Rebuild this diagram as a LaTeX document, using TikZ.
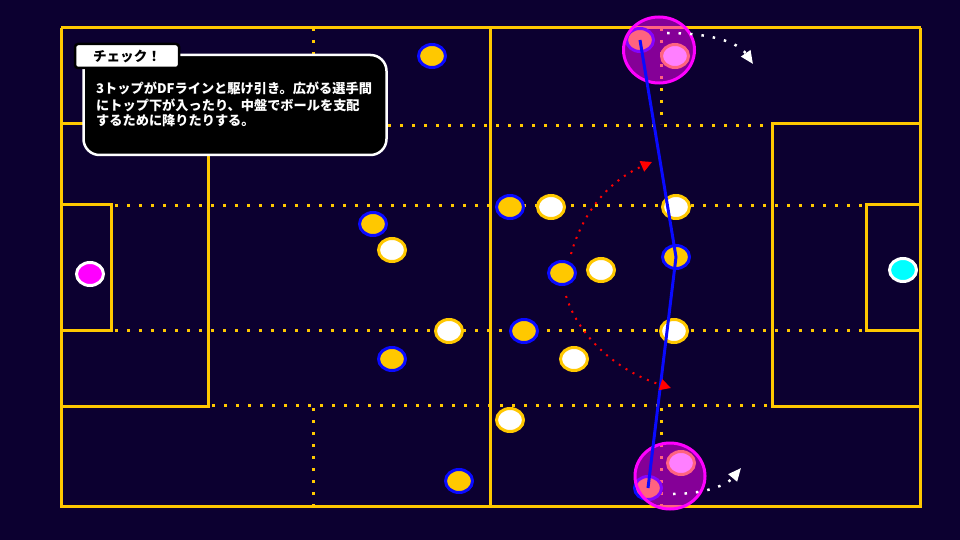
\documentclass[tikz,border=0pt]{standalone}
\usepackage{fontspec}
\newfontfamily\cjk{Noto Sans CJK JP}
\usetikzlibrary{shapes.geometric,arrows.meta}
\definecolor{bg}{RGB}{12,0,48}
\definecolor{fy}{RGB}{255,200,0}
\definecolor{pblue}{RGB}{10,10,255}
\definecolor{mag}{RGB}{255,0,255}
\definecolor{cy}{RGB}{0,255,255}
\definecolor{ared}{RGB}{255,0,0}
\tikzset{
  fline/.style={draw=fy,line width=3pt},
  fdots/.style={draw=fy,line width=3pt,dash pattern=on 3pt off 9pt},
  player/.style={ellipse,minimum width=27pt,minimum height=23pt,inner sep=0pt,line width=3pt},
  att/.style={player,fill=fy,draw=pblue},
  dfd/.style={player,fill=white,draw=fy},
  gk/.style={player,draw=white},
  zone/.style={ellipse,inner sep=0pt,minimum width=71pt,minimum height=66pt,fill=mag,fill opacity=0.5,draw=mag,draw opacity=1,line width=3pt},
  redarrow/.style={draw=ared,line width=2pt,dash pattern=on 2pt off 6pt,-{Triangle[length=11pt,width=11pt]}},
  whitearrow/.style={draw=white,line width=2.5pt,dash pattern=on 2.5pt off 9pt,-{Triangle[length=13pt,width=11pt]}},
  runline/.style={draw=pblue,line width=3pt},
  bodytext/.style={anchor=west,inner sep=0pt,text=white,font=\cjk\bfseries\fontsize{13.2}{16}\selectfont},
}
\begin{document}
\begin{tikzpicture}[x=1pt,y=-1pt]
\useasboundingbox (0,0) rectangle (960,540);
\fill[bg] (0,0) rectangle (960,540);
% field
\draw[fline] (61,28) -- (921,28);
\draw[fline] (61,28) -- (61,508);
\draw[fline] (920,28) -- (920,505);
\draw[fline] (60,506) -- (922,506);
\draw[fline] (490,28) -- (490,506);
\draw[fline] (61,124) -- (208,124) -- (208,406) -- (61,406);
\draw[fline] (61,204) -- (111,204) -- (111,330) -- (61,330);
\draw[fline] (920,124) -- (772,124) -- (772,406) -- (920,406);
\draw[fline] (920,204) -- (866,204) -- (866,330) -- (920,330);
% dotted guides
\draw[fdots] (208,126) -- (772,126);
\draw[fdots] (115,205) -- (866,205);
\draw[fdots] (115,330) -- (866,330);
\draw[fdots] (212,405) -- (772,405);
\draw[fdots] (313,28) -- (313,124);
\draw[fdots] (313,408) -- (313,506);
\draw[fdots] (661,28) -- (661,124);
\draw[fdots] (661,408) -- (661,506);
% goalkeepers
\node[gk,fill=mag] (gkl) at (90,274) {};
\node[gk,fill=cy] (gkr) at (903,270) {};
% attackers
\node[att] (a1) at (432,56) {};
\node[att] (a2) at (373,224) {};
\node[att] (a3) at (510,207) {};
\node[att] (a4) at (562,273) {};
\node[att] (a5) at (676,257) {};
\node[att] (a6) at (524,331) {};
\node[att] (a7) at (392,359) {};
\node[att] (a8) at (459,481) {};
\node[att] (a9) at (640,40) {};
\node[att] (a10) at (648,488) {};
% defenders
\node[dfd] (d1) at (392,250) {};
\node[dfd] (d2) at (551,207) {};
\node[dfd] (d3) at (676,207) {};
\node[dfd] (d4) at (601,270) {};
\node[dfd] (d5) at (449,331) {};
\node[dfd] (d6) at (674,331) {};
\node[dfd] (d7) at (574,359) {};
\node[dfd] (d8) at (510,420) {};
\node[dfd] (d9) at (675,56) {};
\node[dfd] (d10) at (681,463) {};
% highlight zones
\node[zone] (z1) at (659,50) {};
\node[zone,minimum width=70pt] (z2) at (670,476) {};
% callout
\node[fill=black,draw=white,line width=2.5pt,rounded corners=16pt,minimum width=303pt,minimum height=100pt,inner sep=0pt] (box) at (235,105) {};
\node[fill=white,draw=black,line width=2.5pt,rounded corners=3pt,minimum width=104pt,minimum height=24pt,inner sep=0pt,font=\cjk\bfseries\fontsize{13.6}{16}\selectfont] (tab) at (127,56) {チェック！};
\node[bodytext] (t1) at (96,88) {3トップがDFラインと駆け引き。広がる選手間};
\node[bodytext] (t2) at (96,105) {にトップ下が入ったり、中盤でボールを支配};
\node[bodytext] (t3) at (96,121) {するために降りたりする。};
% run line
\draw[runline] (a9.center) -- (a5.center) -- (a10.center);
% arrows
\coordinate (r1) at (652,162);
\coordinate (r2) at (671,388);
\coordinate (w1) at (753,64);
\coordinate (w2) at (741,468);
\draw[redarrow] ([shift={(9,-19)}]a4.center) .. controls (585,205) and (615,178) .. (r1);
\draw[redarrow] ([shift={(4,23)}]a4.center) .. controls (580,340) and (620,372) .. (r2);
\draw[whitearrow] ([shift={(27,-7)}]a9.center) .. controls (710,33) and (738,42) .. (w1);
\draw[whitearrow] ([shift={(25,6)}]a10.center) .. controls (700,494) and (725,487) .. (w2);
\end{tikzpicture}
\end{document}
